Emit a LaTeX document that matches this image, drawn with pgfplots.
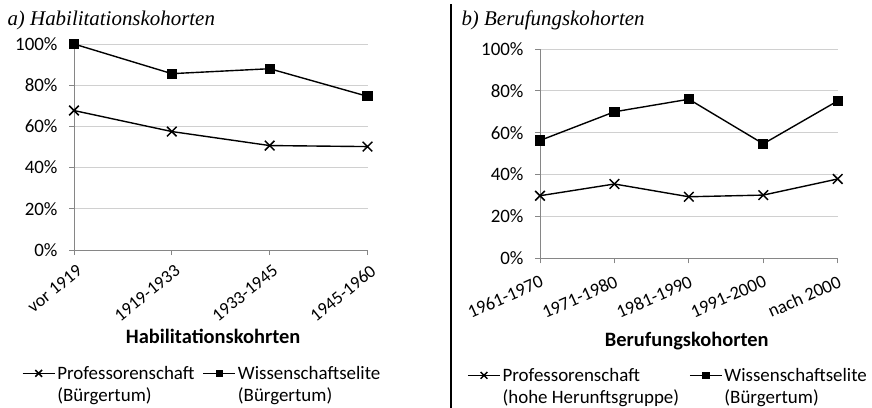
\documentclass[border=0pt]{standalone}
\usepackage{fontspec}
\setmainfont{Carlito}
\newfontfamily\titlefont{Liberation Serif}
\usepackage{pgfplots}
\pgfplotsset{compat=1.18}
\definecolor{axgray}{HTML}{868686}
\definecolor{gridgray}{HTML}{D0D0D0}
\pgfplotsset{
 mystyle/.style={
  scale only axis, clip=false,
  axis lines*=left,
  ymin=0, ymax=100, ytick={0,20,...,100},
  ymajorgrids, grid style={gridgray, line width=0.8pt},
  axis line style={axgray, line width=0.9pt},
  tick style={axgray, line width=0.9pt},
  tick align=outside, major tick length=5bp,
  yticklabel={\pgfmathprintnumber{\tick}\%},
  /pgf/number format/assume math mode=true,
  tick label style={font=\fontsize{19}{21}\selectfont, text=black},
  yticklabel style={xshift=-8bp},
  xtick=data,
  xlabel style={font=\bfseries\fontsize{20.5}{23}\selectfont, anchor=center},
  every axis plot/.append style={black, line width=1.4pt},
  legend columns=2,
  legend cell align=left,
  legend style={draw=none, fill=none, inner sep=0pt, anchor=north west,
     font=\fontsize{19}{22}\selectfont, nodes={align=left, inner sep=2pt}},
  legend image code/.code={\draw[mark repeat=2,mark phase=2,##1,yshift=11bp,every mark/.append style={scale=0.7}] plot coordinates {(0bp,0bp)(16bp,0bp)(32bp,0bp)};},
 },
 profmark/.style={mark=x, mark size=6.8bp, mark options={line width=1.5pt}},
 wissmark/.style={mark=square*, mark size=4.4bp},
}
\begin{document}
\begin{tikzpicture}
\path[use as bounding box] (0,0) rectangle (872bp,408bp);
\node[anchor=west, font=\titlefont\itshape\fontsize{21}{23}\selectfont] at (4bp,388bp) {a) Habilitationskohorten};
\node[anchor=west, font=\titlefont\itshape\fontsize{21}{23}\selectfont] at (458bp,388bp) {b) Berufungskohorten};
\draw[black, line width=1.1pt] (451bp,0bp) -- (451bp,404bp);

\begin{axis}[mystyle, at={(74bp,158bp)}, anchor=south west,
  width=293.5bp, height=206bp, xmin=0, xmax=3,
  xticklabels={vor 1919,1919-1933,1933-1945,1945-1960},
  xticklabel style={rotate=39, anchor=north east, inner sep=1pt, xshift=-3bp, yshift=-7bp, font=\fontsize{18}{20}\selectfont},
  xlabel={Habilitationskohrten},
  xlabel style={at={(axis description cs:0.474,-0.421)}},
  legend style={at={(axis description cs:-0.178,-0.553)},
    /tikz/every even column/.append style={column sep=6bp}},
]
\addplot[profmark] coordinates {(0,67.7)(1,57.5)(2,50.7)(3,50.2)};
\addlegendentry{Professorenschaft\\(Bürgertum)}
\addplot[wissmark] coordinates {(0,100)(1,85.6)(2,88.0)(3,74.6)};
\addlegendentry{Wissenschaftselite\\(Bürgertum)}
\end{axis}

\begin{axis}[mystyle, at={(540bp,149.7bp)}, anchor=south west,
  width=297.7bp, height=209.3bp, xmin=0, xmax=4,
  xticklabels={1961-1970,1971-1980,1981-1990,1991-2000,nach 2000},
  xticklabel style={rotate=24, anchor=north east, inner sep=1pt, xshift=-4bp, yshift=-9bp, font=\fontsize{18.5}{20}\selectfont},
  xlabel={Berufungskohorten},
  xlabel style={at={(axis description cs:0.493,-0.394)}},
  legend style={at={(axis description cs:-0.245,-0.514)},
    /tikz/every even column/.append style={column sep=8bp}},
]
\addplot[profmark] coordinates {(0,29.9)(1,35.5)(2,29.4)(3,30.2)(4,37.9)};
\addlegendentry{Professorenschaft\\(hohe Herunftsgruppe)}
\addplot[wissmark] coordinates {(0,56.3)(1,70.0)(2,76.0)(3,54.7)(4,75.2)};
\addlegendentry{Wissenschaftselite\\(Bürgertum)}
\end{axis}
\end{tikzpicture}
\end{document}
